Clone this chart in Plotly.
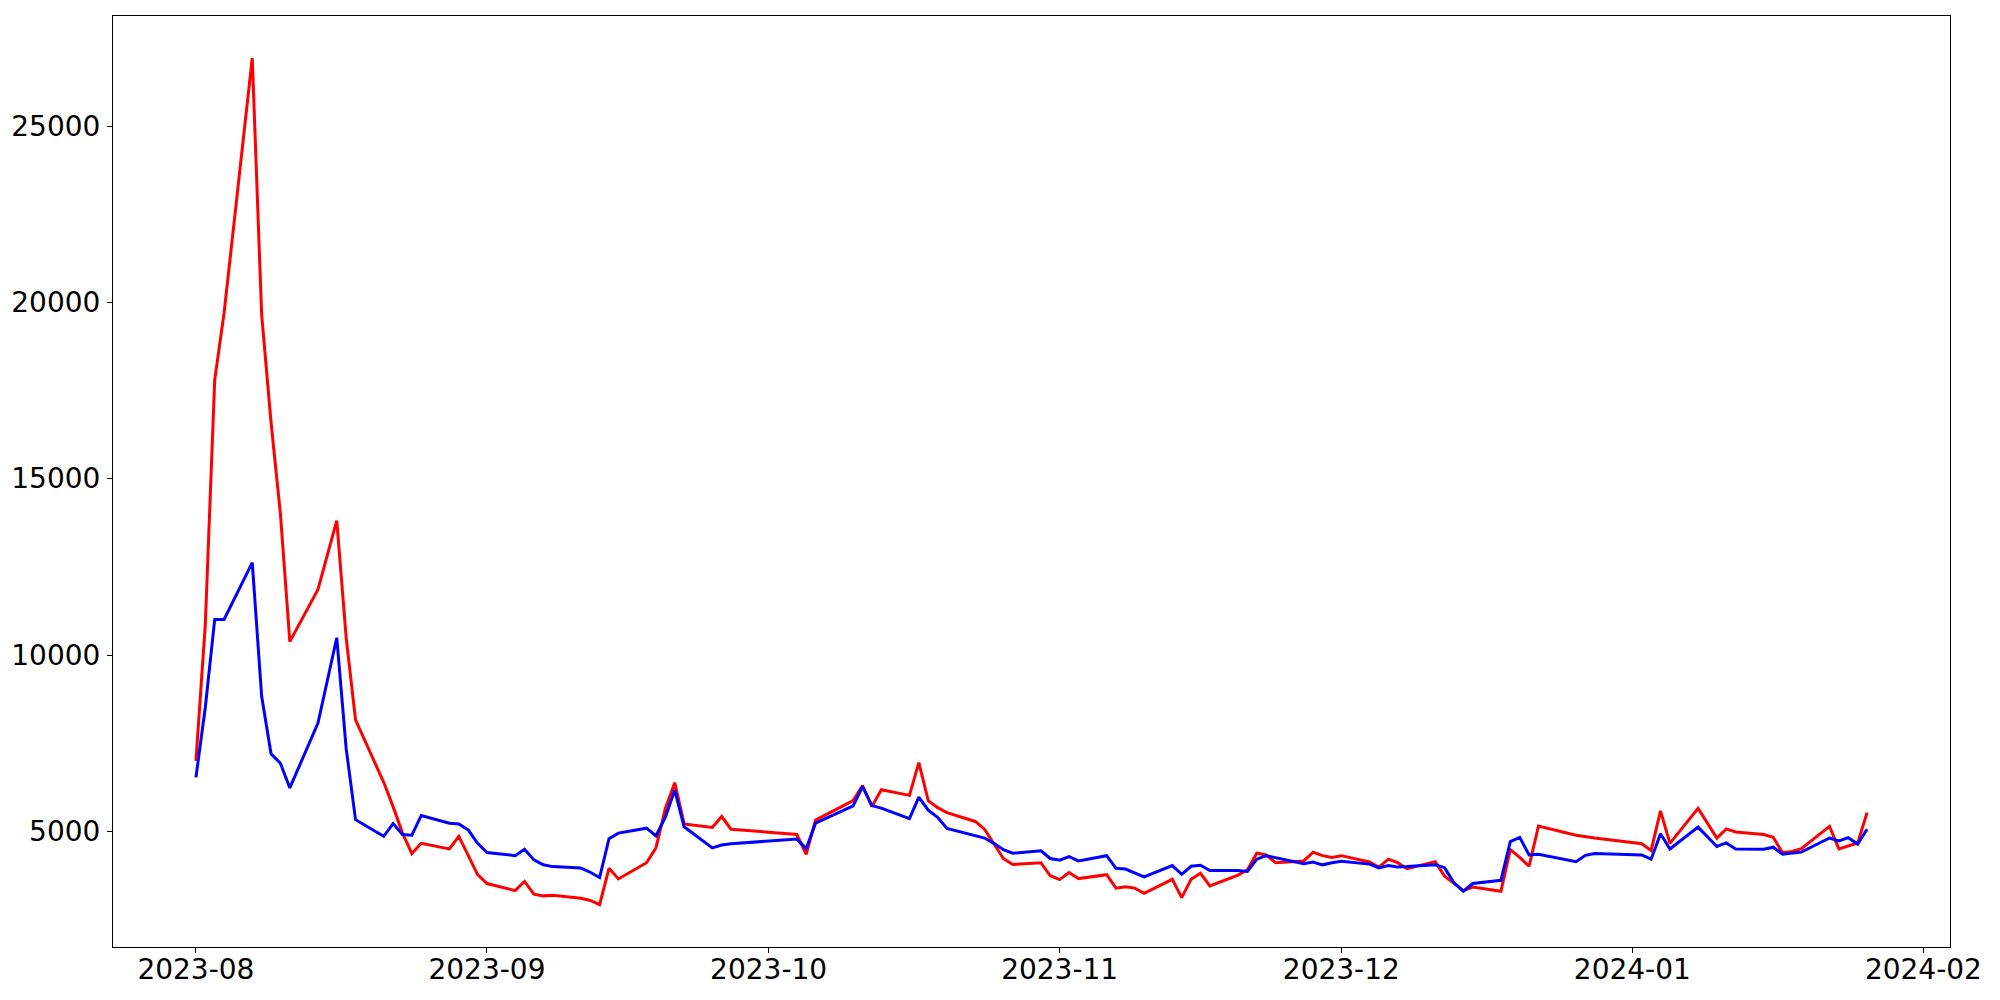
import plotly.graph_objects as go

dates = [
    "2023-08-01", "2023-08-02", "2023-08-03", "2023-08-04", "2023-08-07", "2023-08-08", "2023-08-09",
    "2023-08-10", "2023-08-11", "2023-08-14", "2023-08-16", "2023-08-17", "2023-08-18", "2023-08-21",
    "2023-08-22", "2023-08-23", "2023-08-24", "2023-08-25", "2023-08-28", "2023-08-29", "2023-08-30",
    "2023-08-31", "2023-09-01", "2023-09-04", "2023-09-05", "2023-09-06", "2023-09-07", "2023-09-08",
    "2023-09-11", "2023-09-12", "2023-09-13", "2023-09-14", "2023-09-15", "2023-09-18", "2023-09-19",
    "2023-09-20", "2023-09-21", "2023-09-22", "2023-09-25", "2023-09-26", "2023-09-27", "2023-10-04",
    "2023-10-05", "2023-10-06", "2023-10-10", "2023-10-11", "2023-10-12", "2023-10-13", "2023-10-16",
    "2023-10-17", "2023-10-18", "2023-10-19", "2023-10-20", "2023-10-23", "2023-10-24", "2023-10-25",
    "2023-10-26", "2023-10-27", "2023-10-30", "2023-10-31", "2023-11-01", "2023-11-02", "2023-11-03",
    "2023-11-06", "2023-11-07", "2023-11-08", "2023-11-09", "2023-11-10", "2023-11-13", "2023-11-14",
    "2023-11-15", "2023-11-16", "2023-11-17", "2023-11-20", "2023-11-21", "2023-11-22", "2023-11-23",
    "2023-11-24", "2023-11-27", "2023-11-28", "2023-11-29", "2023-11-30", "2023-12-01", "2023-12-04",
    "2023-12-05", "2023-12-06", "2023-12-07", "2023-12-08", "2023-12-11", "2023-12-12", "2023-12-13",
    "2023-12-14", "2023-12-15", "2023-12-18", "2023-12-19", "2023-12-20", "2023-12-21", "2023-12-22",
    "2023-12-26", "2023-12-27", "2023-12-28", "2024-01-02", "2024-01-03", "2024-01-04", "2024-01-05",
    "2024-01-08", "2024-01-09", "2024-01-10", "2024-01-11", "2024-01-12", "2024-01-15", "2024-01-16",
    "2024-01-17", "2024-01-18", "2024-01-19", "2024-01-22", "2024-01-23", "2024-01-24", "2024-01-25",
    "2024-01-26",
]

red_values = [
    7000, 10870, 17800, 19700, 26930, 19650, 16600,
    14000, 10380, 11860, 13810, 10500, 8160, 6390,
    5700, 4950, 4370, 4660, 4500, 4860, 4320,
    3770, 3520, 3320, 3580, 3220, 3170, 3190,
    3100, 3040, 2920, 3950, 3650, 4110, 4530,
    5650, 6380, 5210, 5110, 5420, 5060, 4910,
    4350, 5320, 5870, 6300, 5700, 6180, 6020,
    6950, 5870, 5670, 5530, 5280, 5060, 4630,
    4230, 4060, 4110, 3740, 3630, 3830, 3660,
    3770, 3390, 3430, 3390, 3240, 3640, 3120,
    3640, 3810, 3450, 3760, 3910, 4380, 4330,
    4110, 4160, 4410, 4310, 4260, 4310, 4130,
    3980, 4210, 4110, 3940, 4140, 3730, 3520,
    3320, 3420, 3300, 4480, 4260, 4010, 5150,
    4890, 4850, 4810, 4650, 4460, 5580, 4660,
    5650, 5230, 4810, 5070, 4980, 4910, 4830,
    4390, 4430, 4510, 5140, 4500, 4590, 4670,
    5530,
]

blue_values = [
    6530, 8520, 11010, 11010, 12620, 8830, 7200,
    6930, 6230, 8070, 10490, 7350, 5330, 4860,
    5220, 4910, 4890, 5450, 5230, 5210, 5040,
    4660, 4400, 4310, 4490, 4190, 4050, 4000,
    3960, 3840, 3690, 4790, 4950, 5090, 4870,
    5400, 6170, 5130, 4530, 4610, 4650, 4780,
    4510, 5230, 5720, 6270, 5730, 5660, 5360,
    5970, 5600, 5400, 5080, 4880, 4810, 4660,
    4480, 4380, 4450, 4230, 4180, 4280, 4160,
    4310, 3950, 3930, 3810, 3710, 4030, 3780,
    4010, 4040, 3890, 3890, 3860, 4210, 4310,
    4250, 4080, 4130, 4050, 4110, 4150, 4070,
    3960, 4030, 3990, 4000, 4050, 3970, 3540,
    3300, 3520, 3610, 4710, 4830, 4330, 4350,
    4140, 4320, 4370, 4330, 4210, 4930, 4500,
    5120, 4850, 4570, 4670, 4500, 4490, 4550,
    4350, 4380, 4410, 4810, 4730, 4820, 4640,
    5060,
]

y_ticks = [5000, 10000, 15000, 20000, 25000]

fig = go.Figure()
fig.add_trace(go.Scatter(x=dates, y=red_values, mode="lines",
                         line=dict(color="#ff0000", width=3), showlegend=False))
fig.add_trace(go.Scatter(x=dates, y=blue_values, mode="lines",
                         line=dict(color="#0000ff", width=3), showlegend=False))

axis_common = dict(
    showline=True, linecolor="black", linewidth=1.1, mirror=True,
    showgrid=False, zeroline=False,
    ticks="outside", ticklen=5, tickwidth=1.1, tickcolor="black",
    tickfont=dict(family="DejaVu Sans", size=28, color="black"),
)

# page body has an 8px margin, so the figure is sized/offset to compensate
fig.update_layout(
    width=1992, height=992,
    paper_bgcolor="white", plot_bgcolor="white",
    margin=dict(l=105, r=50, t=8, b=53, autoexpand=False),
    xaxis=dict(
        **axis_common,
        type="date",
        range=["2023-07-23 04:00", "2024-02-03 20:00"],
        tick0="2023-08-01", dtick="M1", tickformat="%Y-%m",
        ticklabelstandoff=-8,
    ),
    yaxis=dict(
        **axis_common,
        range=[1720, 28120],
        tickvals=y_ticks,
        ticktext=[str(v) for v in y_ticks],
        ticklabelstandoff=1,
    ),
)

fig.write_html("out.html")
